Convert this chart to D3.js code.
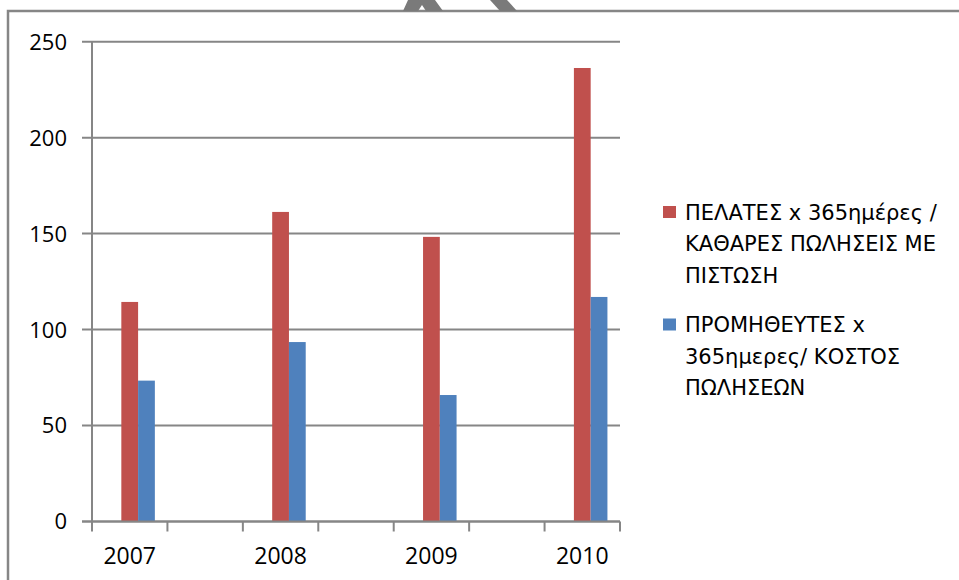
<!DOCTYPE html>
<html>
<head>
<meta charset="utf-8">
<script src="https://cdn.jsdelivr.net/npm/d3@7"></script>
<style>
  body { margin: 0; background: #fff; }
  text { font-family: "Open Sans", sans-serif; fill: #000; }
  .legend text { font-family: "DejaVu Sans", sans-serif; }
</style>
</head>
<body>
<div id="chart_area"></div>
<script>
// categories (blank slots between the years, as in the sheet)
var years = ["2007", "", "2008", "", "2009", "", "2010"];
// first series of the sheet is empty
var seriesKeys = ["blank", "pelates", "promitheutes"];
var pelates = [114.4, null, 161.3, null, 148.3, null, 236.3];
var promitheutes = [73.4, null, 93.5, null, 65.9, null, 117.0];
var yTicks = [0, 50, 100, 150, 200, 250];
var legendPelates = ["ΠΕΛΑΤΕΣ x 365ημέρες /", "ΚΑΘΑΡΕΣ ΠΩΛΗΣΕΙΣ ΜΕ", "ΠΙΣΤΩΣΗ"];
var legendPromitheutes = ["ΠΡΟΜΗΘΕΥΤΕΣ x", "365ημερες/ ΚΟΣΤΟΣ", "ΠΩΛΗΣΕΩΝ"];

var red = "#C0504D", blue = "#4F81BD", grey = "#868686";

var svg = d3.select("#chart_area")
    .append("svg")
    .attr("width", 959)
    .attr("height", 580);

svg.append("rect").attr("width", 959).attr("height", 580).attr("fill", "#fff");

// chart frame (top and left edges visible)
svg.append("path")
    .attr("d", "M8,580 L8,11 L959,11")
    .attr("fill", "none")
    .attr("stroke", grey)
    .attr("stroke-width", 2.5);

// bits of a shape sticking out above the frame
svg.append("path")
    .attr("d", "M403,11 L408,0 L435,0 L443,11 L426,11 L422,5 L418,11 Z")
    .attr("fill", "#7a7a7a");
svg.append("path")
    .attr("d", "M490,0 L507,0 L517,11 L500,11 Z")
    .attr("fill", "#7a7a7a");

// slots are keyed by index so the blank ones stay separate
var slots = d3.range(years.length);

var x = d3.scaleBand()
    .domain(slots)
    .range([92, 620]);

var inner = d3.scaleBand()
    .domain(seriesKeys)
    .range([0, x.bandwidth()])
    .paddingOuter(0.75);

var y = d3.scaleLinear()
    .domain([0, 250])
    .range([521.5, 41.7]);

// gridlines with their outward tick
svg.append("g")
    .selectAll("line")
    .data(yTicks)
    .enter()
    .append("line")
    .attr("x1", 82)
    .attr("x2", 620)
    .attr("y1", function(d) { return y(d); })
    .attr("y2", function(d) { return y(d); })
    .attr("stroke", grey)
    .attr("stroke-width", 2);

svg.append("g")
    .selectAll("text")
    .data(yTicks)
    .enter()
    .append("text")
    .attr("x", 67)
    .attr("y", function(d) { return y(d); })
    .attr("dy", "0.36em")
    .attr("text-anchor", "end")
    .style("font-size", "22px")
    .text(function(d) { return d; });

// y axis line
svg.append("line")
    .attr("x1", 92).attr("x2", 92)
    .attr("y1", y(250)).attr("y2", y(0))
    .attr("stroke", grey)
    .attr("stroke-width", 2);

// x axis ticks on slot boundaries
var boundaries = slots.map(function(i) { return x(i); }).concat([x.range()[1]]);
svg.append("g")
    .selectAll("line")
    .data(boundaries)
    .enter()
    .append("line")
    .attr("x1", function(d) { return d; })
    .attr("x2", function(d) { return d; })
    .attr("y1", y(0))
    .attr("y2", y(0) + 10)
    .attr("stroke", grey)
    .attr("stroke-width", 2);

svg.append("g")
    .selectAll("text")
    .data(slots)
    .enter()
    .append("text")
    .attr("x", function(i) { return x(i) + x.bandwidth() / 2; })
    .attr("y", 556)
    .attr("dy", "0.36em")
    .attr("text-anchor", "middle")
    .style("font-size", "23px")
    .text(function(i) { return years[i]; });

// bars
function drawSeries(values, key, color) {
    svg.append("g")
        .selectAll("rect")
        .data(slots.filter(function(i) { return values[i] !== null; }))
        .enter()
        .append("rect")
        .attr("x", function(i) { return x(i) + inner(key); })
        .attr("width", inner.bandwidth())
        .attr("y", function(i) { return y(values[i]); })
        .attr("height", function(i) { return y(0) - y(values[i]); })
        .attr("fill", color);
}
drawSeries(pelates, "pelates", red);
drawSeries(promitheutes, "promitheutes", blue);

// x axis line on top of bars
svg.append("line")
    .attr("x1", 82).attr("x2", 620)
    .attr("y1", y(0)).attr("y2", y(0))
    .attr("stroke", grey)
    .attr("stroke-width", 2);

// legend
function legendItem(lines, color, top) {
    var g = svg.append("g").attr("class", "legend");
    g.append("rect")
        .attr("x", 663)
        .attr("y", top - 6)
        .attr("width", 13)
        .attr("height", 12)
        .attr("fill", color);
    g.selectAll("text")
        .data(lines)
        .enter()
        .append("text")
        .attr("x", 685)
        .attr("y", function(d, i) { return top + i * 31.5; })
        .attr("dy", "0.36em")
        .style("font-size", "21px")
        .text(function(d) { return d; });
}
legendItem(legendPelates, red, 212);
legendItem(legendPromitheutes, blue, 324.5);
</script>
</body>
</html>
